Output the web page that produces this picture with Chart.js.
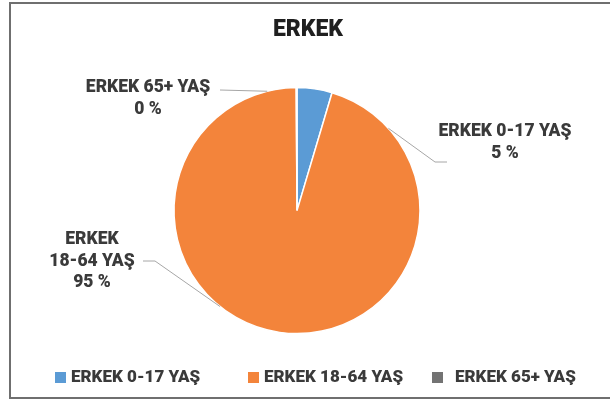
<!DOCTYPE html>
<html lang="tr">
<head>
    <meta charset="UTF-8">
    <title>ERKEK</title>
    <script src="https://cdn.jsdelivr.net/npm/chart.js"></script>
    <style>
        html, body {
            margin: 0;
            padding: 0;
            background: #ffffff;
            overflow: hidden;
        }
        .wrap {
            position: relative;
            width: 610px;
            height: 404px;
        }
        .frame {
            position: absolute;
            left: 9px;
            top: 2px;
            width: 700px;
            height: 397px;
            border: 2px solid #6f6f6f;
            box-sizing: border-box;
        }
        canvas {
            position: absolute;
            left: 0;
            top: 0;
        }
    </style>
</head>
<body>
<div class="wrap">
    <div class="frame"></div>
    <canvas id="pie" width="610" height="404"></canvas>
</div>
<script>
    // data (percent of total)
    const categories = ['ERKEK 0-17 YAŞ', 'ERKEK 18-64 YAŞ', 'ERKEK 65+ YAŞ'];
    const shares = [4.6, 95.3, 0.1];
    const colors = ['#5b9bd5', '#f3843b', '#737373'];

    // data label layout: text lines, text centre, leader line (elbow then angle on the rim)
    const labelLines = [
        ['ERKEK 0-17 YAŞ', '%'],
        ['ERKEK', '18-64 YAŞ', '%'],
        ['ERKEK 65+ YAŞ', '%']
    ];
    const labelLayout = [
        { x: 505, y: 132, leader: [[447, 162], [435, 162]], rimAngle: 48 },
        { x: 92, y: 240, leader: [[143, 261], [155, 261]], rimAngle: 218.7 },
        { x: 148, y: 88, leader: [[220, 90]], rimAngle: 346 }
    ];
    const legendBoxX = [55, 248, 432];
    const legendTextX = [71, 264, 455];

    const textColor = '#3a3a3a';
    const labelFont = '900 17.5px Roboto';

    // shift the title a bit right of the pie centre, as in the original
    const titleShift = {
        id: 'titleShift',
        afterLayout(chart) {
            chart.titleBlock.left += 11;
            chart.titleBlock.right += 11;
        }
    };

    const dataLabels = {
        id: 'dataLabels',
        afterDatasetsDraw(chart) {
            const { ctx } = chart;
            const meta = chart.getDatasetMeta(0);
            const arc = meta.data[0];
            const cx = arc.x, cy = arc.y, r = arc.outerRadius;
            const total = shares.reduce((a, b) => a + b, 0);

            ctx.save();
            labelLayout.forEach((lay, i) => {
                // leader line
                const a = lay.rimAngle * Math.PI / 180;
                const rimX = cx + r * Math.sin(a);
                const rimY = cy - r * Math.cos(a);
                ctx.strokeStyle = '#a6a6a6';
                ctx.lineWidth = 1;
                ctx.beginPath();
                ctx.moveTo(lay.leader[0][0], lay.leader[0][1]);
                for (let k = 1; k < lay.leader.length; k++) ctx.lineTo(lay.leader[k][0], lay.leader[k][1]);
                ctx.lineTo(rimX, rimY);
                ctx.stroke();

                // text
                ctx.fillStyle = textColor;
                ctx.font = labelFont;
                ctx.textAlign = 'center';
                ctx.textBaseline = 'middle';
                const pct = Math.round(shares[i] / total * 100) + ' %';
                labelLines[i].forEach((line, j) => {
                    const txt = line === '%' ? pct : line;
                    ctx.fillText(txt, lay.x, lay.y + j * 21.5);
                });
            });
            ctx.restore();
        }
    };

    const bottomLegend = {
        id: 'bottomLegend',
        afterDraw(chart) {
            const { ctx } = chart;
            const ds = chart.data.datasets[0];
            ctx.save();
            ctx.font = '900 17px Roboto';
            ctx.textBaseline = 'middle';
            ctx.textAlign = 'left';
            chart.data.labels.forEach((label, i) => {
                ctx.fillStyle = ds.backgroundColor[i];
                ctx.fillRect(legendBoxX[i], 372, 11, 11);
                ctx.fillStyle = textColor;
                ctx.fillText(label, legendTextX[i], 378);
            });
            ctx.restore();
        }
    };

    new Chart(document.getElementById('pie'), {
        type: 'pie',
        data: {
            labels: categories,
            datasets: [{
                data: shares,
                backgroundColor: colors,
                borderColor: '#ffffff',
                borderWidth: 1.5,
                radius: 123
            }]
        },
        options: {
            responsive: false,
            animation: false,
            layout: { padding: { left: 0, right: 16, top: 0, bottom: 26.4 } },
            plugins: {
                legend: { display: false },
                tooltip: { enabled: false },
                title: {
                    display: true,
                    text: 'ERKEK',
                    color: '#1f1f1f',
                    font: { family: 'Roboto', size: 23, weight: '900' },
                    padding: { top: 16, bottom: 0 }
                }
            }
        },
        plugins: [titleShift, dataLabels, bottomLegend]
    });
</script>
</body>
</html>
